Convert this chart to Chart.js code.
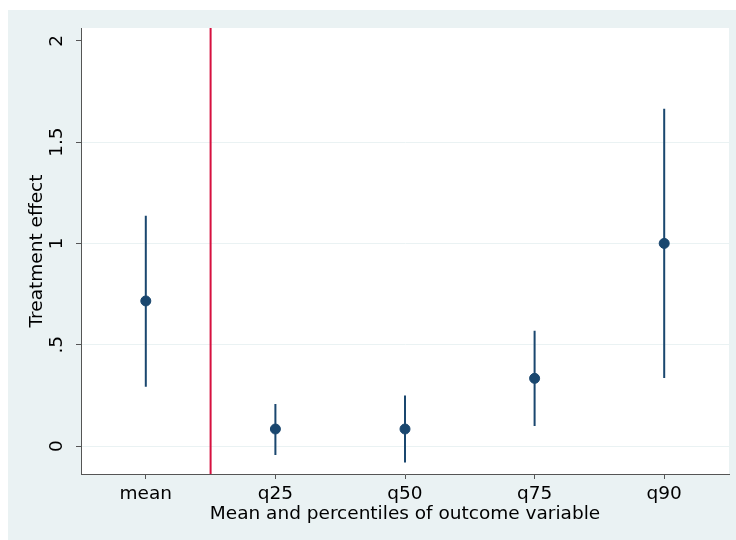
<!DOCTYPE html>
<html>
<head>
<meta charset="utf-8">
<script src="https://cdn.jsdelivr.net/npm/chart.js@4"></script>
<style>
  body { margin: 0; background: #fff; }
  canvas { display: block; }
</style>
</head>
<body>
<canvas id="effectChart" width="736" height="540"></canvas>
<script>
// values
const categories = ['mean', 'q25', 'q50', 'q75', 'q90'];
const estimates = [0.716, 0.084, 0.084, 0.334, 1.0];
const ciLower = [0.293, -0.044, -0.081, 0.099, 0.336];
const ciUpper = [1.137, 0.207, 0.250, 0.569, 1.665];
const yTicks = [0, 0.5, 1, 1.5, 2];
const yTickLabels = ['0', '.5', '1', '1.5', '2'];
const dividerX = 1.5;
const yMin = -0.138, yMax = 2.063;

const bgColor = '#eaf2f3';
const navy = '#1a476f';
const font = { family: 'DejaVu Sans', size: 18.5 };

const points = estimates.map((v, i) => ({ x: i + 1, y: v }));
const ciSegments = [];
categories.forEach((c, i) => {
  ciSegments.push({ x: i + 1, y: ciLower[i] }, { x: i + 1, y: ciUpper[i] }, { x: i + 1, y: null });
});

// outer light background + white plot region
const background = {
  id: 'background',
  beforeDraw(chart) {
    const { ctx, chartArea: a } = chart;
    ctx.save();
    ctx.fillStyle = bgColor;
    ctx.fillRect(8, 10, chart.width - 8, chart.height - 10);
    ctx.fillStyle = '#fff';
    ctx.fillRect(a.left, a.top, a.right - a.left, a.bottom - a.top);
    ctx.restore();
  }
};

const ctx = document.getElementById('effectChart').getContext('2d');
new Chart(ctx, {
  type: 'scatter',
  data: {
    datasets: [
      {
        data: points,
        backgroundColor: navy,
        borderColor: navy,
        pointRadius: 5,
        showLine: false
      },
      {
        data: ciSegments,
        borderColor: navy,
        borderWidth: 2,
        pointRadius: 0,
        showLine: true,
        spanGaps: false
      },
      {
        data: [{ x: dividerX, y: yMin }, { x: dividerX, y: yMax }],
        borderColor: '#d6103f',
        borderWidth: 2,
        pointRadius: 0,
        showLine: true
      }
    ]
  },
  options: {
    responsive: false,
    animation: false,
    layout: { padding: { left: 8, top: 28, right: 7, bottom: 0 } },
    plugins: {
      legend: { display: false },
      tooltip: { enabled: false }
    },
    scales: {
      x: {
        type: 'linear',
        min: 0.5,
        max: 5.5,
        afterBuildTicks: s => { s.ticks = categories.map((c, i) => ({ value: i + 1 })); },
        afterFit: s => { s.height = 66; },
        ticks: {
          font: font,
          color: '#000',
          padding: 4,
          maxRotation: 0,
          callback: v => categories[v - 1]
        },
        grid: { drawOnChartArea: false, tickLength: 5, tickColor: '#555', tickWidth: 1 },
        border: { color: '#555', width: 1 },
        title: {
          display: true,
          text: 'Mean and percentiles of outcome variable',
          font: font,
          color: '#000',
          padding: { top: 0, bottom: 15 }
        }
      },
      y: {
        min: yMin,
        max: yMax,
        afterBuildTicks: s => { s.ticks = yTicks.map(v => ({ value: v })); },
        afterFit: s => { s.width = 73; },
        ticks: {
          font: font,
          color: '#000',
          padding: 4,
          minRotation: 90,
          maxRotation: 90,
          crossAlign: 'center',
          callback: v => yTickLabels[yTicks.indexOf(v)]
        },
        grid: {
          color: c => (c.tick && c.tick.value === 2 ? 'rgba(0,0,0,0)' : bgColor),
          lineWidth: 1,
          tickLength: 5,
          tickColor: '#555',
          tickWidth: 1
        },
        border: { color: '#555', width: 1 },
        title: {
          display: true,
          text: 'Treatment effect',
          font: font,
          color: '#000',
          padding: { top: 18, bottom: 0 }
        }
      }
    }
  },
  plugins: [background]
});
</script>
</body>
</html>
